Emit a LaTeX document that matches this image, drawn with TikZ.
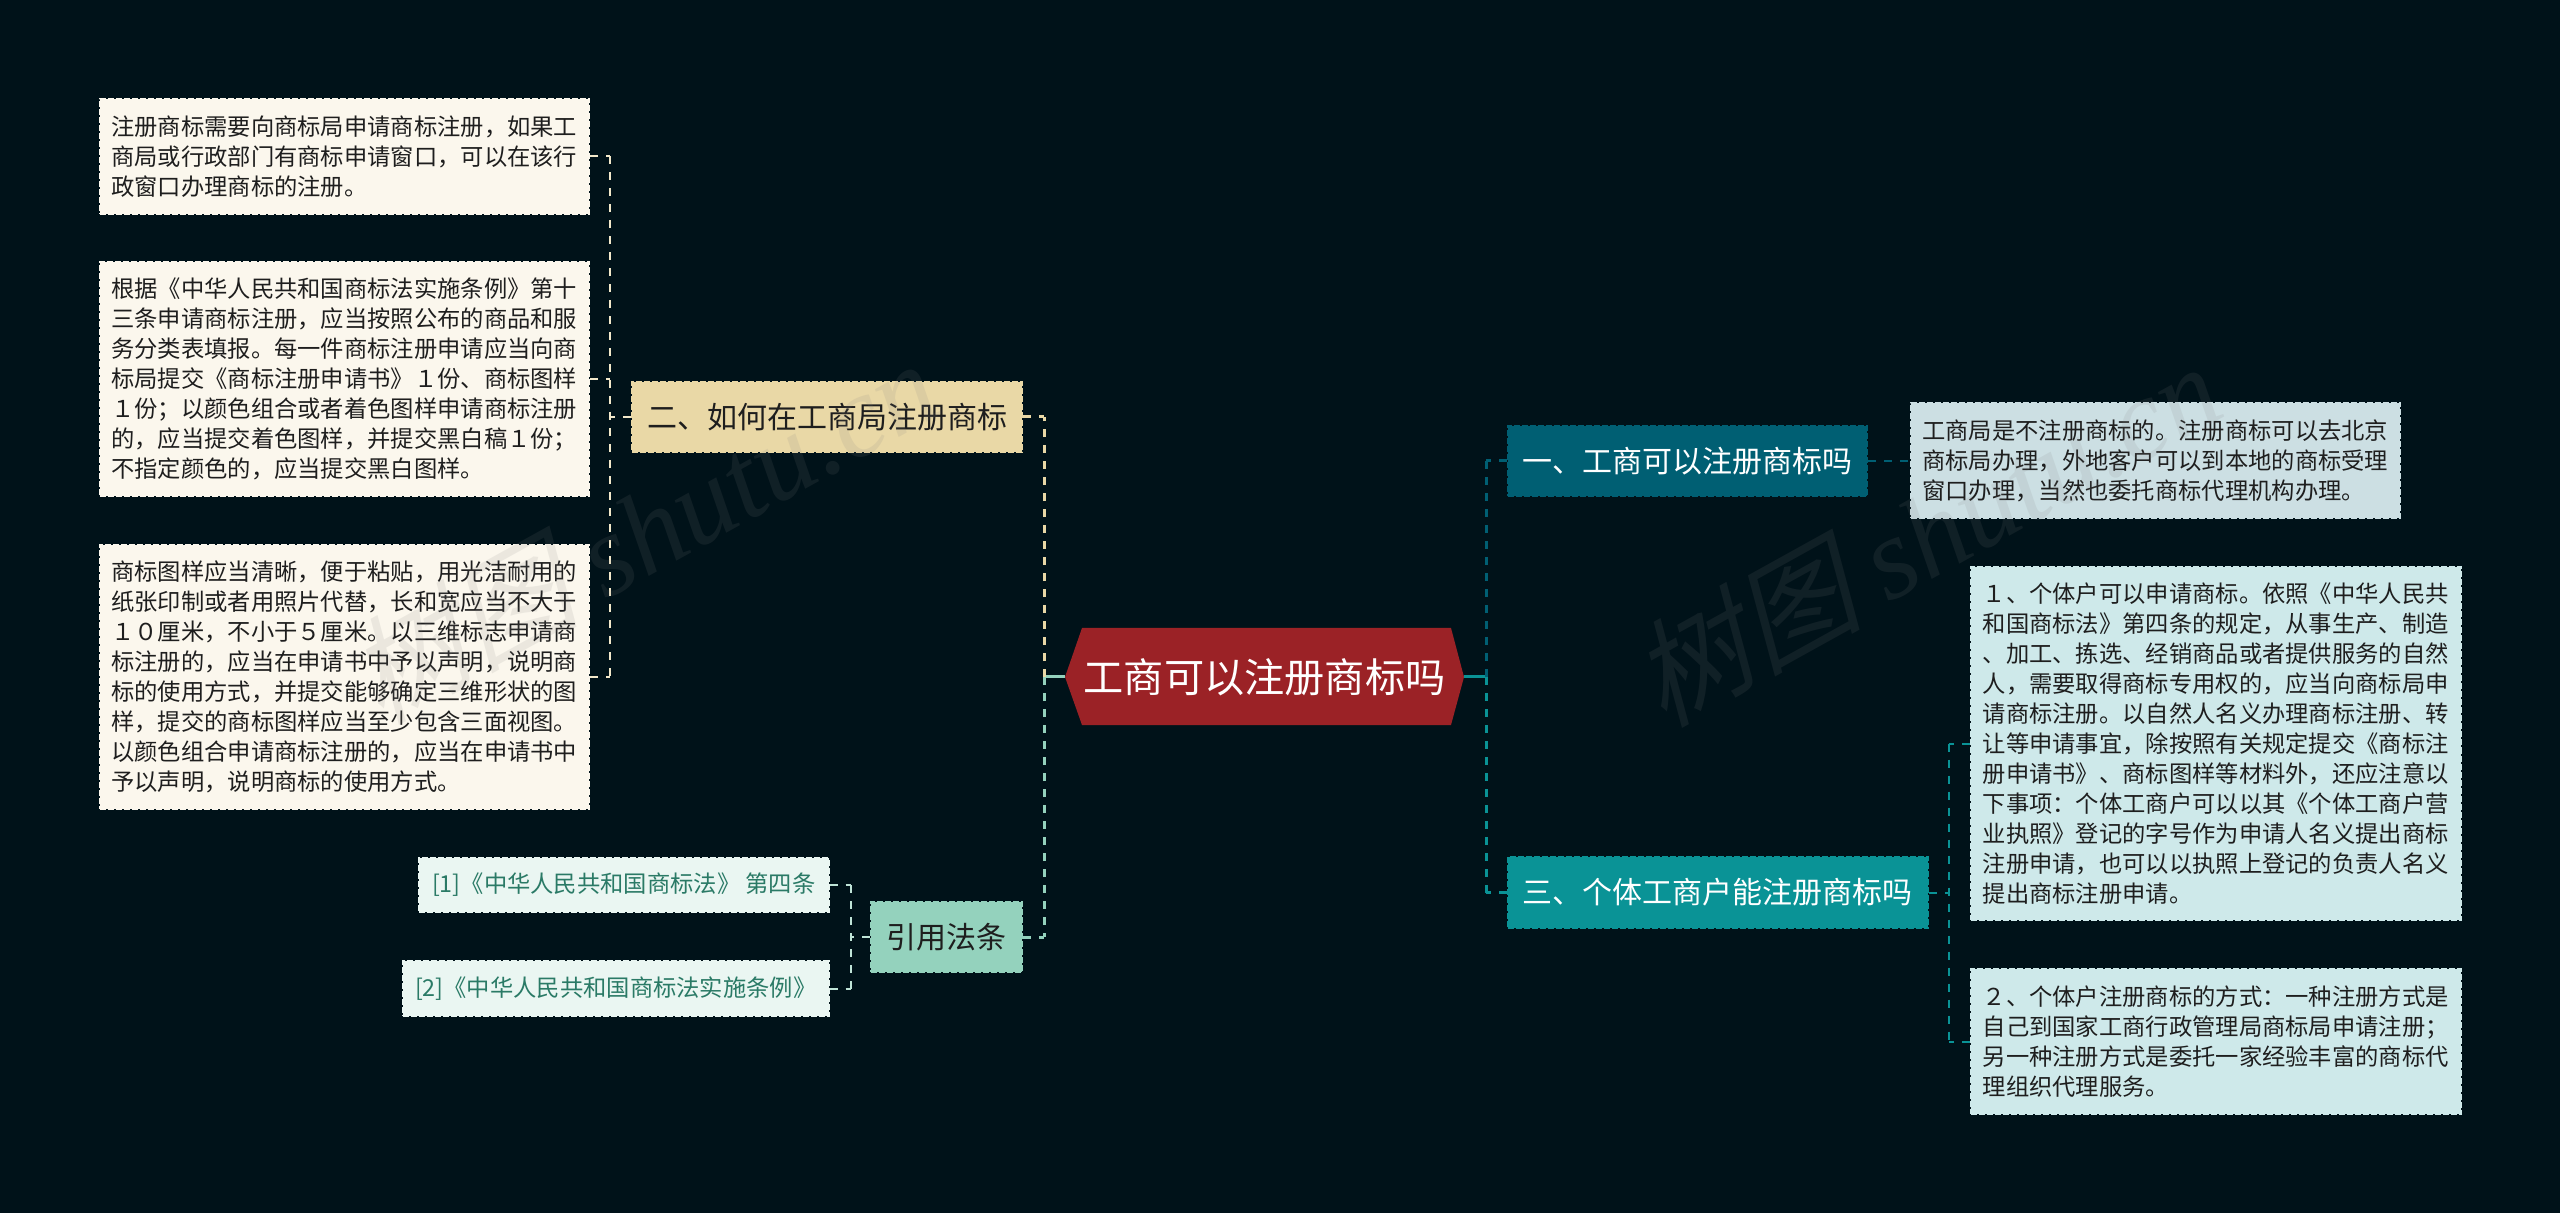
\documentclass[tikz,border=0pt]{standalone}
\usepackage{fontspec}
\setmainfont{Noto Sans CJK SC}
\newfontfamily\wmcjk[FakeSlant=0.25]{Noto Sans CJK SC}
\newfontfamily\wmlat{Liberation Serif}
\definecolor{bgc}{HTML}{001219}
\definecolor{redc}{HTML}{9B2226}
\definecolor{tealA}{HTML}{005F73}
\definecolor{tealB}{HTML}{0A9396}
\definecolor{mint}{HTML}{94D2BD}
\definecolor{sand}{HTML}{E9D8A6}
\definecolor{leafsand}{HTML}{FBF7ED}
\definecolor{leafA}{HTML}{CCDFE3}
\definecolor{leafB}{HTML}{CEE9EA}
\definecolor{leafmint}{HTML}{EAF6F2}
\definecolor{reftxt}{HTML}{2A7A66}
\definecolor{inkc}{HTML}{1E1E1E}
\tikzset{
  sized/.style 2 args={minimum width=#1*0.5pt,minimum height=#2*0.5pt},
  boxc/.style={fill=#1,draw=#1,line width=1pt,dash pattern=on 3pt off 1pt,inner sep=0pt,align=left},
  leaf/.style={boxc=#1,text=inkc,font=\fontsize{11.65pt}{15pt}\selectfont},
  refleaf/.style={boxc=leafmint,text=reftxt,font=\fontsize{11.65pt}{15pt}\selectfont},
  branch/.style={boxc=#1,font=\fontsize{15pt}{18pt}\selectfont},
  lk/.style={draw=#1,line width=1pt,dash pattern=on 4pt off 4pt},
  solidlk/.style={draw=#1,line width=1.5pt},
  wm/.style={text=gray,opacity=0.13,rotate=29,inner sep=0pt,font=\fontsize{58pt}{64pt}\selectfont}
}
\begin{document}
\begin{tikzpicture}[x=0.5pt,y=-0.5pt]
\useasboundingbox (0,0) rectangle (2560,1213);
\fill[bgc] (0,0) rectangle (2560,1213);
% root hexagon
\fill[redc] (1065,677) -- (1082,628) -- (1451,628) -- (1464,677) -- (1451,725) -- (1082,725) -- cycle;
\node[sized={399}{97},inner sep=0pt,text=white,font=\fontsize{20.1pt}{24pt}\selectfont] (root) at (1264.5,677) {工商可以注册商标吗};
% branches
\node[branch=sand,sized={390}{70},text=inkc] (er) at (827,417) {二、如何在工商局注册商标};
\node[branch=mint,sized={151}{70},text=inkc] (yin) at (946.5,937) {引用法条};
\node[branch=tealA,sized={359}{70},text=white] (yi) at (1687.5,461) {一、工商可以注册商标吗};
\node[branch=tealB,sized={420.5}{71},text=white] (san) at (1717.75,892.5) {三、个体工商户能注册商标吗};
% left leaves
\node[leaf=leafsand,sized={489.5}{115}] (b1) at (344.25,156.5) {注册商标需要向商标局申请商标注册，如果工\\商局或行政部门有商标申请窗口，可以在该行\\政窗口办理商标的注册。};
\node[leaf=leafsand,sized={489.5}{234}] (b2) at (344.25,379) {根据《中华人民共和国商标法实施条例》第十\\三条申请商标注册，应当按照公布的商品和服\\务分类表填报。每一件商标注册申请应当向商\\标局提交《商标注册申请书》１份、商标图样\\１份；以颜色组合或者着色图样申请商标注册\\的，应当提交着色图样，并提交黑白稿１份；\\不指定颜色的，应当提交黑白图样。};
\node[leaf=leafsand,sized={489.5}{264}] (b3) at (344.25,677) {商标图样应当清晰，便于粘贴，用光洁耐用的\\纸张印制或者用照片代替，长和宽应当不大于\\１０厘米，不小于５厘米。以三维标志申请商\\标注册的，应当在申请书中予以声明，说明商\\标的使用方式，并提交能够确定三维形状的图\\样，提交的商标图样应当至少包含三面视图。\\以颜色组合申请商标注册的，应当在申请书中\\予以声明，说明商标的使用方式。};
\node[refleaf,sized={409.5}{54}] (r1) at (623.75,885) {[1]《中华人民共和国商标法》 第四条};
\node[refleaf,sized={425.5}{55}] (r2) at (615.75,988.5) {[2]《中华人民共和国商标法实施条例》};
% right leaves
\node[leaf=leafA,sized={489.5}{115}] (a1) at (2155.25,460.5) {工商局是不注册商标的。注册商标可以去北京\\商标局办理，外地客户可以到本地的商标受理\\窗口办理，当然也委托商标代理机构办理。};
\node[leaf=leafB,sized={489.5}{353}] (c1) at (2215.75,743.5) {１、个体户可以申请商标。依照《中华人民共\\和国商标法》第四条的规定，从事生产、制造\\、加工、拣选、经销商品或者提供服务的自然\\人，需要取得商标专用权的，应当向商标局申\\请商标注册。以自然人名义办理商标注册、转\\让等申请事宜，除按照有关规定提交《商标注\\册申请书》、商标图样等材料外，还应注意以\\下事项：个体工商户可以以其《个体工商户营\\业执照》登记的字号作为申请人名义提出商标\\注册申请，也可以以执照上登记的负责人名义\\提出商标注册申请。};
\node[leaf=leafB,sized={489.5}{145}] (c2) at (2215.75,1041.5) {２、个体户注册商标的方式：一种注册方式是\\自己到国家工商行政管理局商标局申请注册；\\另一种注册方式是委托一家经验丰富的商标代\\理组织代理服务。};
% junctions
\coordinate (jl) at (1044,677);
\coordinate (jr) at (1486,677);
\coordinate (jer) at (610,417);
\coordinate (jyin) at (851,937);
\coordinate (jsan) at (1949,892.5);
% root connectors
\draw[solidlk=mint] (root.west) -- (jl);
\draw[solidlk=tealB] (root.east) -- (jr);
\draw[lk=sand,line width=1.5pt] (jl) -- (jl |- er.east);
\draw[lk=sand,line width=1.5pt] (er.east) -- (jl |- er.east);
\draw[lk=mint,line width=1.5pt] (jl) -- (jl |- yin.east);
\draw[lk=mint,line width=1.5pt] (yin.east) -- (jl |- yin.east);
\draw[lk=tealA,line width=1.5pt] (jr) -- (jr |- yi.west);
\draw[lk=tealA,line width=1.5pt] (yi.west) -- (jr |- yi.west);
\draw[lk=tealB,line width=1.5pt] (jr) -- (jr |- san.west);
\draw[lk=tealB,line width=1.5pt] (san.west) -- (jr |- san.west);
% sand group
\draw[lk=sand!60!white] (er.west) -- (jer);
\draw[lk=sand!60!white] (jer |- b1.east) -- (jer |- b3.east);
\draw[lk=sand!60!white] (b1.east) -- (jer |- b1.east);
\draw[lk=sand!60!white] (b2.east) -- (jer |- b2.east);
\draw[lk=sand!60!white] (b3.east) -- (jer |- b3.east);
% mint group
\draw[lk=mint!60!white] (yin.west) -- (jyin);
\draw[lk=mint!60!white] (jyin |- r1.east) -- (jyin |- r2.east);
\draw[lk=mint!60!white] (r1.east) -- (jyin |- r1.east);
\draw[lk=mint!60!white] (r2.east) -- (jyin |- r2.east);
% teal groups
\draw[lk=tealA] (yi.east) -- (a1.west |- yi.east);
\draw[lk=tealB] (san.east) -- (jsan);
\draw[lk=tealB] (jsan |- c1.west) -- (jsan |- c2.west);
\draw[lk=tealB] (c1.west) -- (jsan |- c1.west);
\draw[lk=tealB] (c2.west) -- (jsan |- c2.west);
% watermarks
\node[wm] (wm1) at (642,530) {{\wmcjk 树图} {\wmlat\itshape shutu.cn}};
\node[wm] (wm2) at (1925,533) {{\wmcjk 树图} {\wmlat\itshape shutu.cn}};
\end{tikzpicture}
\end{document}
